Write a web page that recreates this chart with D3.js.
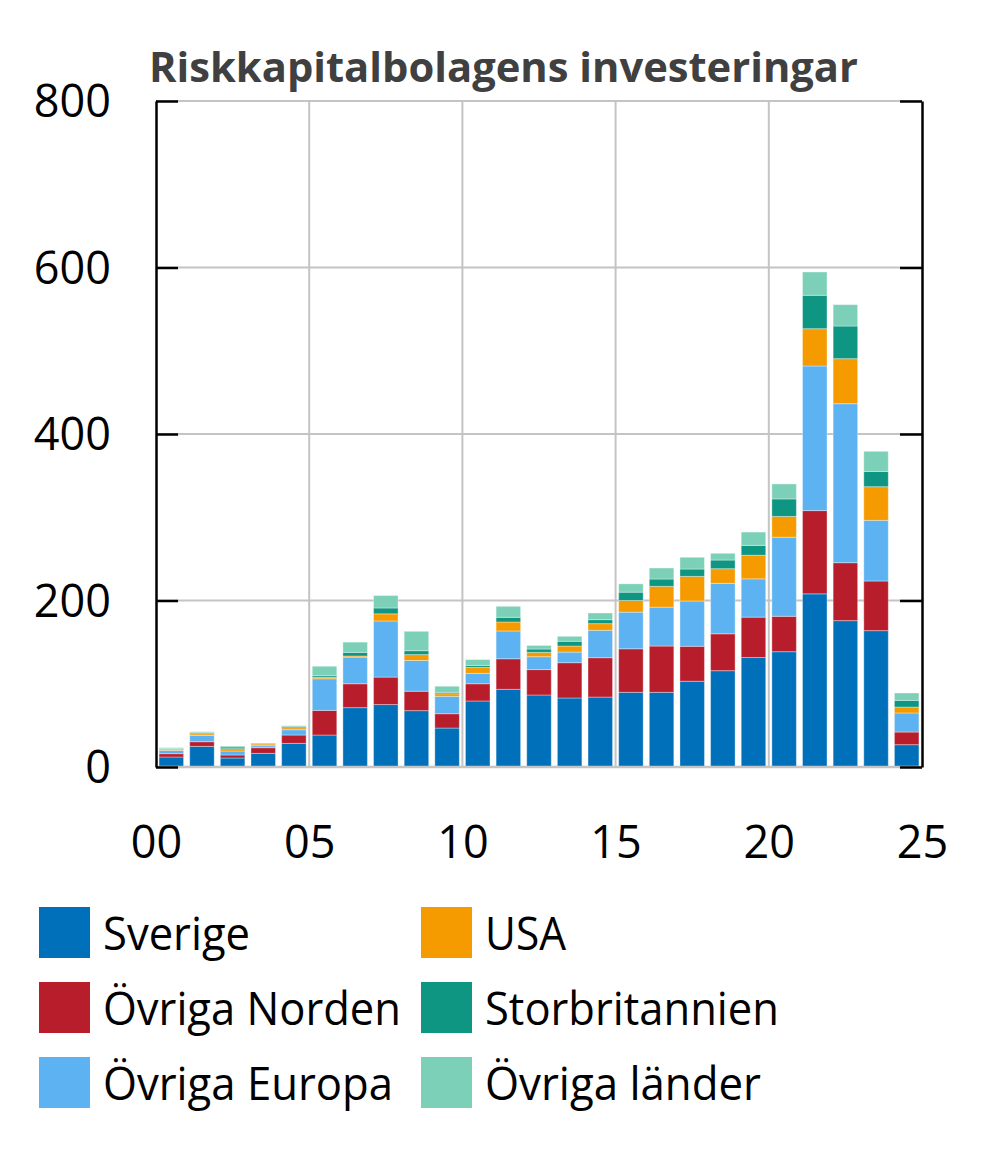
<!DOCTYPE html>
<html>
<head>
<meta charset="utf-8">
<script src="https://cdn.jsdelivr.net/npm/d3@7"></script>
<style>
  html, body { margin: 0; padding: 0; background: #fff; }
  svg { display: block; }
  text { font-family: "Open Sans", "DejaVu Sans", sans-serif; }
</style>
</head>
<body>
<svg id="chart" width="1000" height="1149"></svg>
<script>
// ---- Data ----
const years = d3.range(2000, 2025);
const seriesNames = ["Sverige", "Övriga Norden", "Övriga Europa", "USA", "Storbritannien", "Övriga länder"];
const sverige      = [12, 24.8, 10.8, 16.4, 28.4, 38.4, 71.3, 75, 67.7, 46.8, 79.3, 93.3, 86.5, 82.9, 84, 89.7, 89.7, 103, 115.7, 131.5, 138.5, 208, 175.8, 163.8, 26.8];
const ovrigaNorden = [4, 5.6, 3.6, 6.8, 10, 29.6, 28.7, 33, 23.3, 17.2, 20.7, 36.7, 30.5, 42.4, 47.3, 52.3, 55.6, 42, 44.3, 48.5, 42.5, 100, 69.6, 59.6, 15.2];
const ovrigaEuropa = [4, 7.6, 4.8, 2.4, 6.4, 38, 32, 67.4, 37, 20.9, 12.5, 33.4, 15.5, 12.7, 32.9, 44, 46.7, 54.4, 60.6, 46, 95, 173.7, 191, 72.9, 22.9];
const usa          = [1.2, 2, 2.8, 2, 2.4, 1.7, 1.3, 8.6, 7, 3.1, 7.2, 10.8, 5.2, 7.3, 8, 14, 25, 29.6, 17.6, 28.4, 25, 44.8, 54.1, 40.4, 7.1];
const storbrit     = [0.8, 1.2, 2, 0.8, 1.6, 2, 4.4, 7, 4.7, 1.7, 2.3, 5.6, 4, 5.7, 4.8, 10, 8.8, 8.8, 10.4, 11.8, 21, 40.1, 39.2, 18.3, 8];
const ovrigaLander = [1.2, 1.2, 1.2, 0.4, 0.8, 11.3, 12.3, 15, 23.3, 7.3, 7, 13.2, 4.3, 6, 8, 10, 13.2, 14.1, 8.1, 16, 18, 28, 25.7, 24.2, 8.9];
const yTicks = [0, 200, 400, 600, 800];
const xTickYears = [2000, 2005, 2010, 2015, 2020, 2025];
const xTickLabels = ["00", "05", "10", "15", "20", "25"];
const titleText = "Riskkapitalbolagens investeringar";

// ---- Styles / layout ----
const colors = ["#0070BA", "#B81D2B", "#5DB3F2", "#F59B00", "#0E9682", "#7DD0B8"];
const legendWidths = [147, 298, 290, 81, 294, 276];
const L = 156, R = 922, T = 101, B = 767;

const svg = d3.select("#chart");

const seriesArrays = [sverige, ovrigaNorden, ovrigaEuropa, usa, storbrit, ovrigaLander];
const table = years.map((yr, i) => {
  const row = { year: yr };
  seriesNames.forEach((s, k) => row[s] = seriesArrays[k][i]);
  return row;
});
const stacked = d3.stack().keys(seriesNames)(table);

const x = d3.scaleBand().domain(years).range([L, R]).paddingInner(0.2).paddingOuter(0.1);
const xl = d3.scaleLinear().domain([2000, 2025]).range([L, R]);
const y = d3.scaleLinear().domain([0, 800]).range([B, T]);

// gridlines
const grid = svg.append("g");
grid.selectAll("line.h").data(yTicks.filter(v => v > 0)).join("line")
  .attr("x1", L).attr("x2", R).attr("y1", d => y(d)).attr("y2", d => y(d))
  .attr("stroke", "#c4c4c4").attr("stroke-width", 2);
grid.selectAll("line.v").data(xTickYears.slice(1, -1)).join("line")
  .attr("x1", d => xl(d)).attr("x2", d => xl(d)).attr("y1", T).attr("y2", B)
  .attr("stroke", "#c4c4c4").attr("stroke-width", 2);

// bars
svg.append("g").selectAll("g").data(stacked).join("g")
  .attr("fill", (d, i) => colors[i])
  .selectAll("rect").data(d => d).join("rect")
  .attr("x", d => x(d.data.year))
  .attr("width", x.bandwidth())
  .attr("y", d => y(d[1]))
  .attr("height", d => y(d[0]) - y(d[1]))
  .attr("stroke", "rgba(255,255,255,0.35)")
  .attr("stroke-width", 1);

// baseline gray
svg.append("line").attr("x1", L).attr("x2", R).attr("y1", y(0)).attr("y2", y(0))
  .attr("stroke", "#c4c4c4").attr("stroke-width", 2.5);

// left axis
const yAxisL = svg.append("g").attr("transform", `translate(${L},0)`)
  .call(d3.axisLeft(y).tickValues(yTicks).tickSize(-22).tickPadding(45).tickSizeOuter(0));
yAxisL.select(".domain").attr("stroke", "#000").attr("stroke-width", 2.5);
yAxisL.selectAll(".tick line").attr("stroke", "#000").attr("stroke-width", 2.5);
yAxisL.selectAll(".tick text").attr("font-size", 45).attr("fill", "#000")
  .attr("font-family", '"Open Sans", sans-serif').attr("dy", "0.35em");

// right axis
const yAxisR = svg.append("g").attr("transform", `translate(${R},0)`)
  .call(d3.axisRight(y).tickValues(yTicks).tickSize(-22).tickSizeOuter(0).tickFormat(""));
yAxisR.select(".domain").attr("stroke", "#000").attr("stroke-width", 2.5);
yAxisR.selectAll(".tick line").attr("stroke", "#000").attr("stroke-width", 2.5);

// x axis labels
const xAxis = svg.append("g").attr("transform", `translate(0,${B})`)
  .call(d3.axisBottom(xl).tickValues(xTickYears).tickSize(0).tickPadding(91)
    .tickFormat((d, i) => xTickLabels[i]));
xAxis.select(".domain").remove();
xAxis.selectAll(".tick text").attr("font-size", 45).attr("fill", "#000")
  .attr("font-family", '"Open Sans", sans-serif').attr("dy", "0");

// title
svg.append("text").attr("x", 149).attr("y", 82)
  .attr("font-size", 42).attr("font-weight", "bold").attr("fill", "#404040")
  .attr("textLength", 709).attr("lengthAdjust", "spacingAndGlyphs")
  .text(titleText);

// legend
const legend = svg.append("g");
seriesNames.forEach((name, i) => {
  const col = Math.floor(i / 3), row = i % 3;
  const sx = col === 0 ? 39 : 421;
  const sy = 907 + row * 75;
  legend.append("rect").attr("x", sx).attr("y", sy).attr("width", 51).attr("height", 51)
    .attr("fill", colors[i]);
  legend.append("text").attr("x", sx + 64).attr("y", sy + 43)
    .attr("font-size", 46).attr("fill", "#000")
    .attr("textLength", legendWidths[i]).attr("lengthAdjust", "spacingAndGlyphs")
    .text(name);
});
</script>
</body>
</html>
